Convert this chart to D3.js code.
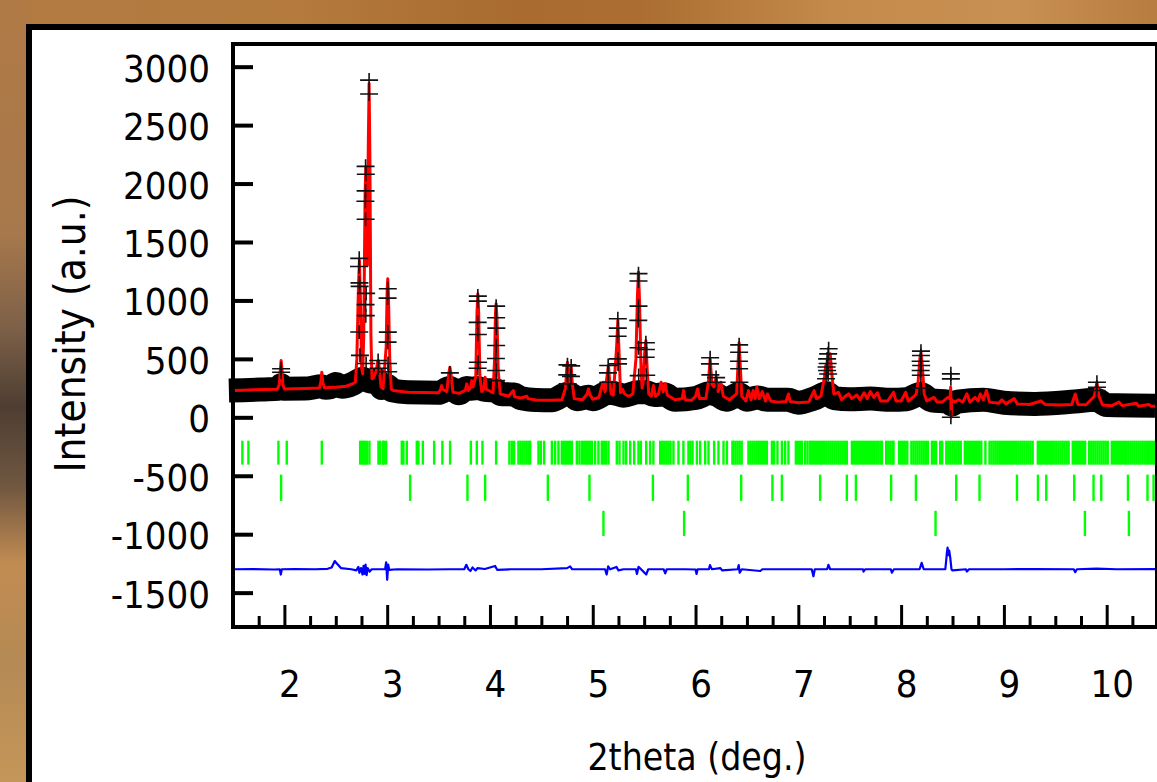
<!DOCTYPE html>
<html><head><meta charset="utf-8">
<script src="https://cdn.jsdelivr.net/npm/d3@7"></script>
<style>body{margin:0;background:#b57d42}svg{display:block}
text{font-family:'DejaVu Sans Condensed','DejaVu Sans',sans-serif;font-stretch:condensed;fill:#000}</style>
</head><body>
<svg id="c" width="1157" height="782"></svg>
<script>
// ---------- data ----------
const xTicks = [2,3,4,5,6,7,8,9,10];
const xMinor = [1.75,2.25,2.5,2.75,3.25,3.5,3.75,4.25,4.5,4.75,5.25,5.5,5.75,6.25,6.5,6.75,7.25,7.5,7.75,8.25,8.5,8.75,9.25,9.5,9.75,10.25];
const yTicks = [-1500,-1000,-500,0,500,1000,1500,2000,2500,3000];

// calculated profile (red)
const calc = [[1.50,229],[1.60,232],[1.70,235],[1.80,238],[1.93,240],[1.950,280],[1.962,420],[1.968,486],[1.975,420],[1.985,280],[2.00,242],
[2.20,246],[2.34,250],[2.355,300],[2.364,386],[2.373,300],[2.39,252],[2.50,258],[2.60,266],[2.66,285],[2.69,300],[2.705,500],[2.72,1100],[2.73,1343],[2.74,1000],[2.752,420],[2.762,372],[2.772,700],[2.785,1900],[2.792,2143],[2.80,1500],[2.808,1300],[2.816,2300],[2.824,2857],[2.832,2200],[2.842,700],[2.852,330],[2.868,340],[2.895,400],[2.905,470],[2.915,486],[2.925,400],[2.94,260],[2.96,245],[2.99,600],[3.0,1100],[3.006,1186],[3.012,1050],[3.025,500],[3.04,240],[3.06,229],
[3.20,214],[3.35,212],[3.50,210],[3.52,240],[3.53,271],[3.54,240],[3.58,220],[3.60,380],[3.61,429],[3.62,380],[3.64,215],[3.70,205],[3.76,230],[3.775,286],[3.79,230],[3.81,250],[3.823,314],[3.835,260],[3.862,350],[3.874,900],[3.882,1057],[3.89,900],[3.902,350],[3.92,220],[3.94,240],[3.953,343],[3.965,240],[4.03,210],[4.045,500],[4.054,900],[4.06,972],[4.068,850],[4.08,400],[4.10,200],[4.18,180],[4.228,229],[4.24,175],[4.30,165],[4.358,180],[4.37,160],[4.45,148],[4.55,145],[4.60,145],[4.70,150],[4.735,250],[4.748,430],[4.754,471],[4.765,300],[4.778,350],[4.79,443],[4.80,300],[4.82,160],[4.90,150],[4.945,200],[4.958,243],[4.97,200],[5.00,155],[5.06,170],[5.10,300],[5.12,220],[5.143,380],[5.153,443],[5.165,300],[5.18,200],[5.20,190],[5.232,600],[5.244,829],[5.256,550],[5.27,210],[5.29,240],[5.31,200],[5.35,180],[5.39,200],[5.42,500],[5.435,1050],[5.445,1243],[5.455,1000],[5.47,400],[5.48,250],[5.49,300],[5.505,550],[5.517,657],[5.53,400],[5.545,200],[5.57,180],[5.59,272],[5.61,180],[5.64,200],[5.665,300],[5.685,220],[5.705,290],[5.725,190],[5.80,150],[5.87,160],[5.883,229],[5.90,150],[5.96,145],[6.00,180],[6.02,243],[6.04,160],[6.10,160],[6.125,300],[6.142,500],[6.16,280],[6.18,260],[6.20,343],[6.22,220],[6.246,300],[6.27,180],[6.33,150],[6.40,200],[6.413,450],[6.424,638],[6.435,450],[6.45,180],[6.49,140],[6.515,229],[6.54,150],[6.56,229],[6.58,160],[6.597,257],[6.62,160],[6.65,220],[6.68,140],[6.70,200],[6.73,140],[6.80,130],[6.88,135],[6.904,200],[6.92,135],[7.00,125],[7.10,130],[7.154,229],[7.175,160],[7.22,180],[7.255,350],[7.267,443],[7.285,350],[7.30,480],[7.31,543],[7.325,380],[7.345,200],[7.39,214],[7.42,150],[7.456,180],[7.49,200],[7.52,160],[7.57,190],[7.60,150],[7.64,210],[7.67,160],[7.70,220],[7.735,170],[7.77,210],[7.80,140],[7.87,140],[7.926,214],[7.95,140],[8.00,140],[8.045,214],[8.07,140],[8.127,180],[8.147,200],[8.165,300],[8.182,500],[8.193,557],[8.205,450],[8.225,200],[8.25,140],[8.32,170],[8.35,130],[8.40,130],[8.455,170],[8.476,160],[8.482,257],[8.487,0],[8.492,150],[8.52,130],[8.56,150],[8.60,130],[8.64,200],[8.67,130],[8.72,170],[8.75,140],[8.77,200],[8.80,150],[8.83,230],[8.86,130],[8.95,120],[8.98,150],[9.02,115],[9.10,160],[9.13,115],[9.25,110],[9.36,140],[9.40,110],[9.55,105],[9.66,110],[9.694,200],[9.72,110],[9.80,108],[9.88,180],[9.905,300],[9.925,180],[9.96,105],[10.05,100],[10.12,130],[10.15,100],[10.29,120],[10.31,95],[10.41,110],[10.43,95],[10.47,95]];

// observed intensity: dense trace (drawn as the black band)
const obsTrace = [[1.46,229],[1.60,232],[1.80,238],[1.94,243],[1.968,275],[1.99,245],[2.20,246],[2.364,265],[2.40,252],[2.45,258],[2.50,285],[2.56,262],[2.66,285],[2.72,315],[2.76,330],[2.80,318],[2.85,305],[2.90,320],[2.95,250],[3.00,270],[3.05,230],[3.20,214],[3.50,210],[3.61,250],[3.70,205],[3.775,250],[3.82,245],[3.88,250],[3.95,235],[4.06,230],[4.10,200],[4.23,195],[4.30,165],[4.45,148],[4.60,145],[4.75,200],[4.79,195],[4.85,155],[4.958,175],[5.00,155],[5.15,210],[5.24,200],[5.30,185],[5.44,215],[5.52,215],[5.60,190],[5.70,195],[5.80,150],[6.00,165],[6.14,205],[6.20,195],[6.30,150],[6.42,200],[6.50,150],[6.60,170],[6.70,150],[6.90,150],[7.00,125],[7.15,160],[7.28,205],[7.35,165],[7.50,155],[7.70,160],[7.90,150],[8.05,155],[8.19,200],[8.30,145],[8.45,135],[8.49,110],[8.55,135],[8.80,150],[9.00,125],[9.30,115],[9.69,135],[9.90,150],[10.00,105],[10.47,100]];

// observed points standing out on the peaks ("+" markers)
const obsPts = [[1.968,415],[1.968,386],
[2.728,1360],[2.726,1290],[2.73,1150],[2.732,1120],[2.728,730],[2.735,530],
[2.79,2147],[2.792,2079],[2.79,1937],[2.788,1849],[2.79,1694],[2.795,1060],[2.79,964],[2.792,870],[2.795,460],
[2.824,2885],[2.824,2766],[2.912,486],[2.915,420],
[3.006,1100],[3.004,1020],[3.006,729],[3.004,643],[3.008,460],[3.01,390],[3.61,380],
[3.882,1037],[3.882,994],[3.88,812],[3.882,709],[3.884,471],[3.88,420],
[4.06,951],[4.06,852],[4.062,763],[4.06,615],[4.058,503],[4.06,400],[4.06,314],
[4.754,449],[4.752,363],[4.756,286],[4.79,440],[4.788,350],
[5.15,443],[5.148,380],[5.152,300],
[5.244,843],[5.244,763],[5.242,694],[5.244,500],[5.246,457],
[5.445,1229],[5.445,1166],[5.445,951],[5.443,829],[5.445,595],[5.447,357],
[5.517,638],[5.517,580],[5.515,514],[5.52,360],
[6.142,509],[6.14,457],[6.144,363],[6.20,340],[6.205,300],
[6.424,620],[6.424,557],[6.422,480],[6.424,415],[6.426,300],
[7.295,586],[7.29,543],[7.28,500],[7.285,460],[7.275,430],[7.28,400],[7.29,370],[7.27,330],
[8.193,566],[8.193,529],[8.19,480],[8.195,443],[8.19,400],[8.192,360],[8.19,250],
[8.484,372],[8.484,329],[8.484,0],
[9.905,300],[9.905,257],[9.90,230]];

// difference curve (blue, already offset)
const diff = [[1.50,-1300],[1.70,-1298],[1.90,-1302],[1.955,-1300],[1.965,-1345],[1.975,-1300],[2.10,-1298],[2.30,-1300],[2.42,-1296],[2.46,-1285],[2.49,-1230],[2.51,-1250],[2.55,-1290],[2.65,-1300],[2.70,-1310],[2.72,-1280],[2.73,-1330],[2.745,-1290],[2.76,-1345],[2.77,-1270],[2.78,-1340],[2.79,-1260],[2.80,-1350],[2.81,-1290],[2.83,-1320],[2.85,-1300],[2.98,-1300],[2.99,-1240],[3.00,-1390],[3.01,-1260],[3.02,-1305],[3.10,-1300],[3.40,-1302],[3.60,-1300],[3.75,-1300],[3.77,-1262],[3.79,-1300],[3.81,-1315],[3.83,-1285],[3.86,-1310],[3.88,-1290],[3.95,-1298],[4.05,-1272],[4.07,-1305],[4.20,-1300],[4.50,-1300],[4.75,-1290],[4.78,-1275],[4.80,-1300],[5.00,-1300],[5.12,-1300],[5.135,-1345],[5.15,-1275],[5.17,-1300],[5.23,-1280],[5.25,-1310],[5.30,-1300],[5.42,-1300],[5.43,-1340],[5.445,-1280],[5.47,-1300],[5.52,-1345],[5.54,-1300],[5.69,-1300],[5.705,-1335],[5.72,-1300],[5.90,-1300],[6.00,-1302],[6.01,-1340],[6.02,-1300],[6.13,-1300],[6.14,-1265],[6.16,-1300],[6.24,-1290],[6.26,-1310],[6.41,-1300],[6.42,-1265],[6.43,-1330],[6.45,-1300],[6.63,-1315],[6.65,-1300],[7.00,-1300],[7.13,-1300],[7.147,-1360],[7.16,-1300],[7.28,-1300],[7.293,-1262],[7.31,-1300],[7.63,-1300],[7.634,-1320],[7.65,-1300],[7.90,-1300],[7.91,-1330],[7.93,-1300],[8.18,-1300],[8.20,-1245],[8.22,-1300],[8.43,-1300],[8.44,-1210],[8.445,-1160],[8.452,-1114],[8.46,-1180],[8.468,-1140],[8.478,-1200],[8.49,-1300],[8.50,-1310],[8.63,-1300],[8.64,-1320],[8.66,-1300],[9.00,-1300],[9.30,-1298],[9.68,-1300],[9.694,-1325],[9.71,-1300],[9.90,-1295],[10.10,-1300],[10.47,-1298]];

// Bragg reflection positions for the three phases
const phase1 = [1.591,1.650,1.942,2.023,2.364,2.737,2.753,2.769,2.785,2.802,2.827,2.915,2.931,2.957,2.970,2.990,3.142,3.158,3.191,3.288,3.304,3.347,3.457,3.537,3.612,3.814,3.872,3.927,4.060,4.189,4.213,4.235,4.277,4.297,4.317,4.337,4.357,4.377,4.391,4.472,4.495,4.527,4.602,4.634,4.666,4.699,4.719,4.739,4.759,4.779,4.797,4.845,4.870,4.894,4.914,4.934,4.954,4.974,4.991,5.023,5.055,5.088,5.108,5.128,5.153,5.234,5.260,5.299,5.325,5.364,5.403,5.445,5.468,5.520,5.558,5.590,5.656,5.676,5.696,5.716,5.736,5.756,5.785,5.834,5.882,5.931,5.951,5.971,6.013,6.045,6.094,6.126,
6.181,6.223,6.272,6.305,6.359,6.369,6.389,6.409,6.429,6.449,6.515,6.535,6.555,6.575,6.595,6.615,6.635,6.655,6.675,6.694,6.743,6.765,6.797,6.840,6.872,6.904,6.976,6.996,7.018,7.035,7.067,7.090,7.116,
7.132,7.152,7.172,7.192,7.212,7.232,7.252,7.272,7.292,7.312,7.332,7.352,7.372,7.392,7.412,7.432,7.452,7.472,7.521,7.541,7.561,7.581,7.601,7.618,7.638,7.658,7.678,7.698,7.718,7.738,7.758,7.778,7.798,7.813,7.855,7.875,7.895,7.915,7.926,
7.98,8.00,8.02,8.04,8.06,8.10,8.12,8.14,8.16,8.18,8.20,8.22,8.24,8.26,8.30,8.32,8.34,8.38,8.40,8.44,8.46,8.48,8.50,8.52,8.54,8.56,8.58,8.62,8.64,8.66,8.68,8.70,8.72,8.74,8.76,8.78,8.82,8.86,8.88,8.90,8.92,8.94,8.96,8.98,9.00,9.02,9.04,9.06,9.08,9.10,9.12,9.14,9.16,9.18,9.20,9.22,9.24,9.26,9.28,
9.33,9.35,9.37,9.39,9.41,9.43,9.45,9.47,9.49,9.51,9.53,9.55,9.57,9.59,9.61,9.63,9.67,9.69,9.71,9.73,9.75,9.77,9.79,9.83,9.85,9.87,9.89,9.91,9.93,9.95,9.97,9.99,10.01,10.05,10.07,10.09,10.11,10.13,10.15,10.17,10.19,10.21,10.23,10.25,10.27,10.29,10.31,10.33,10.35,10.37,10.39,10.41,10.43,10.45,10.47];
const phase2 = [1.968,3.223,3.781,3.953,4.563,4.968,5.585,5.925,6.444,6.748,6.840,7.212,7.472,7.560,7.903,8.144,8.536,8.763,9.127,9.331,9.412,9.684,9.872,9.947,10.207,10.397,10.456];
const phase3 = [5.104,5.889,8.335,9.788,10.216];

const xTitle = "2theta (deg.)";
const yTitle = "Intensity (a.u.)";

// ---------- drawing ----------
const svg = d3.select('#c');
const defs = svg.append('defs');
const gH = defs.append('linearGradient').attr('id','bgH').attr('x1',0).attr('x2',1).attr('y1',0).attr('y2',0);
[[0,'#b27a42'],[0.25,'#b47a3e'],[0.45,'#a96b2f'],[0.55,'#ab6d31'],[0.72,'#c38a4b'],[0.88,'#c99053'],[1,'#b77c40']]
  .forEach(s=>gH.append('stop').attr('offset',s[0]).attr('stop-color',s[1]));
const gV = defs.append('linearGradient').attr('id','bgV').attr('x1',0).attr('x2',0).attr('y1',0).attr('y2',1);
[[0,'#b07a45'],[0.3,'#a7784c'],[0.42,'#7d6048'],[0.52,'#4e3e32'],[0.62,'#6f5640'],[0.72,'#c18c52'],[0.85,'#b58a55'],[1,'#c59659']]
  .forEach(s=>gV.append('stop').attr('offset',s[0]).attr('stop-color',s[1]));
defs.append('clipPath').attr('id','plotClip').append('rect').attr('x',225).attr('y',46).attr('width',930).attr('height',579);

svg.append('rect').attr('width',1157).attr('height',782).attr('fill','url(#bgH)');
svg.append('rect').attr('x',0).attr('y',0).attr('width',30).attr('height',782).attr('fill','url(#bgV)');
// white panel
svg.append('rect').attr('x',29).attr('y',27).attr('width',1200).attr('height',800)
  .attr('fill','#fff').attr('stroke','#000').attr('stroke-width',6);

const x = d3.scaleLinear().domain([1.5,10.47]).range([233,1155]);
const y = d3.scaleLinear().domain([-1794,3194]).range([627,44]);

const plot = svg.append('g').attr('clip-path','url(#plotClip)');

// observed dense band
plot.append('path').datum(obsTrace)
  .attr('d', d3.line().curve(d3.curveMonotoneX).x(d=>x(d[0])).y(d=>y(d[1])))
  .attr('fill','none').attr('stroke','#000').attr('stroke-width',24).attr('stroke-linejoin','round');

// Bragg ticks
const rows = [[phase1,-200,-405],[phase2,-490,-715],[phase3,-800,-1015]];
rows.forEach(r=>{
  plot.append('g').selectAll('line').data(r[0]).join('line')
    .attr('x1',d=>x(d)).attr('x2',d=>x(d)).attr('y1',y(r[1])).attr('y2',y(r[2]))
    .attr('stroke','#00ff00').attr('stroke-width',2.4);
});

// observed + markers
svg.append('g').selectAll('path').data(obsPts).join('path')
  .attr('d',d=>{const px=x(d[0]),py=y(d[1]);return `M${px-9},${py}h18M${px},${py-7}v14`;})
  .attr('stroke','#111').attr('stroke-width',1.6).attr('fill','none');

// calculated
plot.append('path').datum(calc)
  .attr('d', d3.line().x(d=>x(d[0])).y(d=>y(d[1])))
  .attr('fill','none').attr('stroke','#ff0000').attr('stroke-width',3).attr('stroke-linejoin','round');

// difference
plot.append('path').datum(diff)
  .attr('d', d3.line().x(d=>x(d[0])).y(d=>y(d[1])))
  .attr('fill','none').attr('stroke','#0000ff').attr('stroke-width',2.2).attr('stroke-linejoin','round');

// axes
const fmt = d=>String(d);
const xMinorAxis = svg.append('g').attr('transform','translate(0,627)')
  .call(d3.axisBottom(x).tickValues(xMinor).tickSize(-11).tickFormat(''));
const xAxis = svg.append('g').attr('transform','translate(0,627)')
  .call(d3.axisBottom(x).tickValues(xTicks).tickSize(-22).tickFormat(fmt));
const yAxis = svg.append('g').attr('transform','translate(233,0)')
  .call(d3.axisLeft(y).tickValues(yTicks).tickSize(-20).tickPadding(23).tickFormat(fmt));
[xMinorAxis,xAxis,yAxis].forEach(a=>{a.select('.domain').remove();});
xMinorAxis.selectAll('line').attr('stroke','#000').attr('stroke-width',3);
xAxis.selectAll('line').attr('stroke','#000').attr('stroke-width',3);
yAxis.selectAll('line').attr('stroke','#000').attr('stroke-width',4);
xAxis.selectAll('text').attr('y',70).attr('dy',0).attr('dx',5).attr('font-size',38)
  .style('font-family',"'DejaVu Sans Condensed','DejaVu Sans',sans-serif").attr('fill','#000');
yAxis.selectAll('text').attr('dy','0.38em').attr('font-size',38)
  .style('font-family',"'DejaVu Sans Condensed','DejaVu Sans',sans-serif").attr('fill','#000');

// frame
svg.append('line').attr('x1',233).attr('x2',233).attr('y1',42).attr('y2',629).attr('stroke','#000').attr('stroke-width',4);
svg.append('line').attr('x1',231).attr('x2',1157).attr('y1',44).attr('y2',44).attr('stroke','#000').attr('stroke-width',4);
svg.append('line').attr('x1',231).attr('x2',1157).attr('y1',627).attr('y2',627).attr('stroke','#000').attr('stroke-width',4);
svg.append('line').attr('x1',1156).attr('x2',1156).attr('y1',42).attr('y2',629).attr('stroke','#000').attr('stroke-width',2);

// titles
svg.append('text').attr('x',(x.range()[0]+x.range()[1])/2+3).attr('y',770)
  .attr('text-anchor','middle').attr('font-size',37).text(xTitle);
svg.append('text').attr('transform','translate(85,334) rotate(-90)')
  .attr('text-anchor','middle').attr('font-size',42).text(yTitle);
</script>
</body></html>
